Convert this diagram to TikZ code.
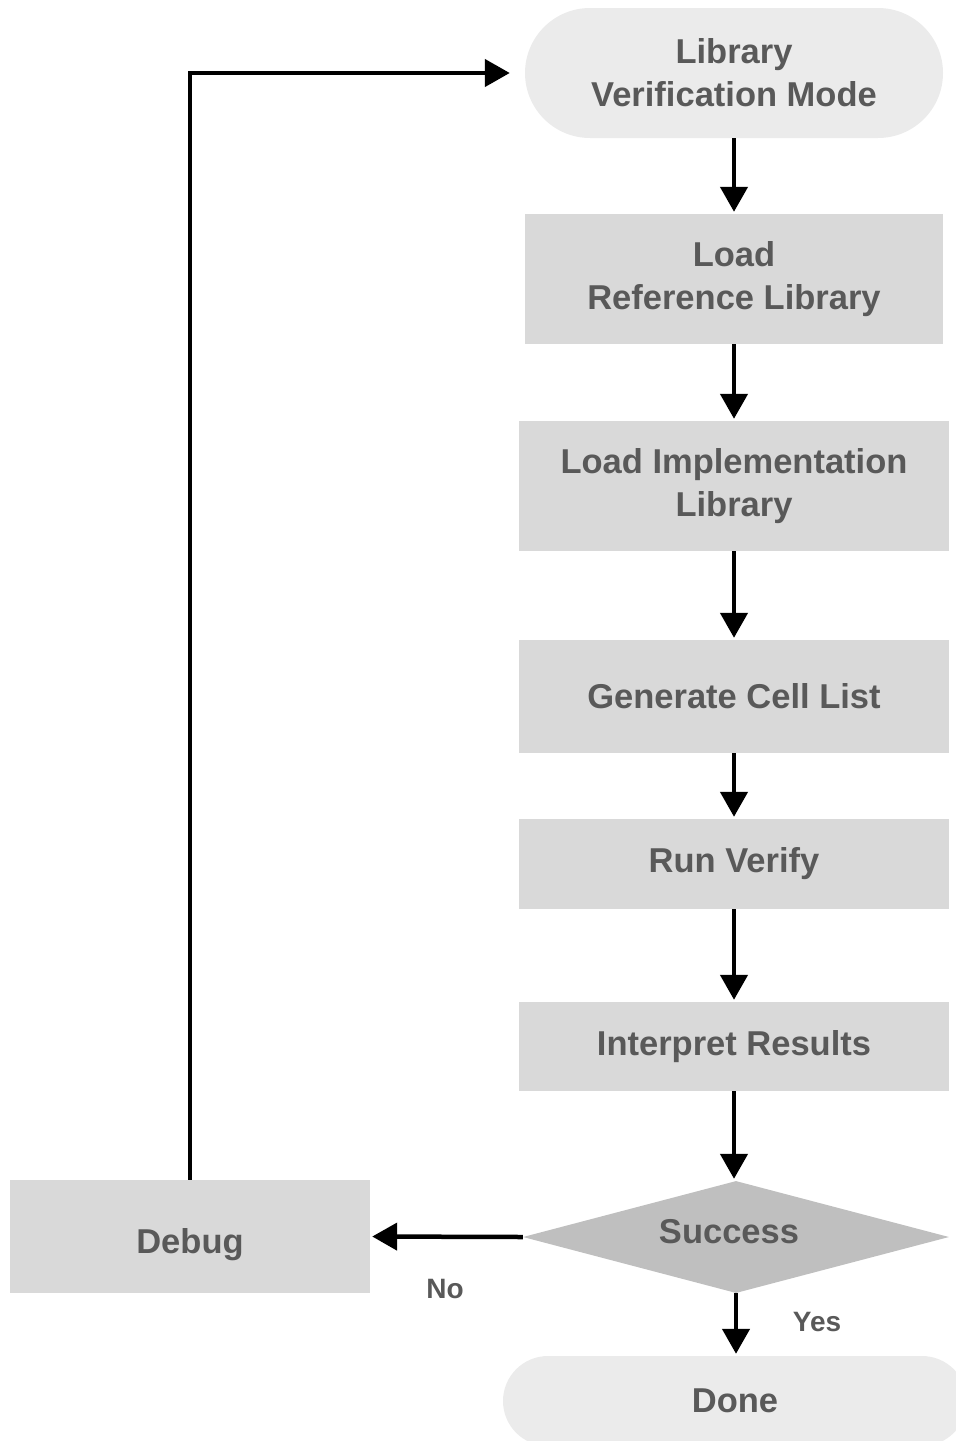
\documentclass[tikz,border=0pt]{standalone}
\usepackage{fontspec}
\setmainfont{Liberation Sans}
\usetikzlibrary{shapes.geometric,arrows.meta}
\definecolor{termfill}{HTML}{EBEBEB}
\definecolor{boxfill}{HTML}{D9D9D9}
\definecolor{diafill}{HTML}{BFBFBF}
\definecolor{txt}{HTML}{595959}
\begin{document}
\begin{tikzpicture}[x=1pt,y=-1pt,
  lbl/.style={font=\fontsize{34.5}{43}\selectfont\bfseries, text=txt, align=center},
  term/.style={lbl, fill=termfill, rounded corners=#1, inner sep=0pt},
  stepbox/.style={lbl, fill=boxfill, inner sep=0pt},
  decision/.style={lbl, diamond, fill=diafill, inner sep=0pt, aspect=3.8},
  arr/.style={line width=4.5pt, -{Triangle[length=25pt,width=27pt]}, shorten >=2pt},
  small/.style={font=\fontsize{28}{32}\selectfont\bfseries, text=txt}
]
\useasboundingbox (0,0) rectangle (956,1441);
\node[term=65pt, minimum width=418pt, minimum height=130pt] (start) at (734,73) {Library\\Verification Mode};
\node[stepbox, minimum width=418pt, minimum height=130pt] (ref) at (734,279) {Load\\Reference Library};
\node[stepbox, minimum width=430pt, minimum height=130pt] (impl) at (734,486) {Load Implementation\\Library};
\node[stepbox, minimum width=430pt, minimum height=113pt] (gen) at (734,696.5) {Generate Cell List};
\node[stepbox, minimum width=430pt, minimum height=90pt] (run) at (734,864) {Run Verify};
\node[stepbox, minimum width=430pt, minimum height=89pt] (interp) at (734,1046.5) {Interpret Results};
\node[decision, minimum width=426pt, minimum height=112pt, text height=25pt, text depth=12pt] (succ) at (736,1237) {\hspace*{-14pt}Success};
\node[stepbox, minimum width=360pt, minimum height=113pt, text height=33pt, text depth=0pt] (debug) at (190,1236.5) {Debug};
\node[term=45pt, minimum width=464pt, minimum height=90pt] (done) at (735,1401) {Done};
\node[small] (no) at (445,1289) {No};
\node[small] (yes) at (817,1322) {Yes};
\draw[arr] (start.south -| ref.north) -- (ref.north);
\draw[arr] (ref) -- (impl);
\draw[arr] (impl) -- (gen);
\draw[arr] (gen) -- (run);
\draw[arr] (run) -- (interp);
\draw[arr] (interp.south) -- (succ.north -| interp.south);
\draw[arr] (succ.west) -- (debug.east);
\draw[arr] (succ.south) -- (succ.south |- done.north);
\draw[arr, shorten >=15pt] (debug.north) |- (start.west);
\end{tikzpicture}
\end{document}
